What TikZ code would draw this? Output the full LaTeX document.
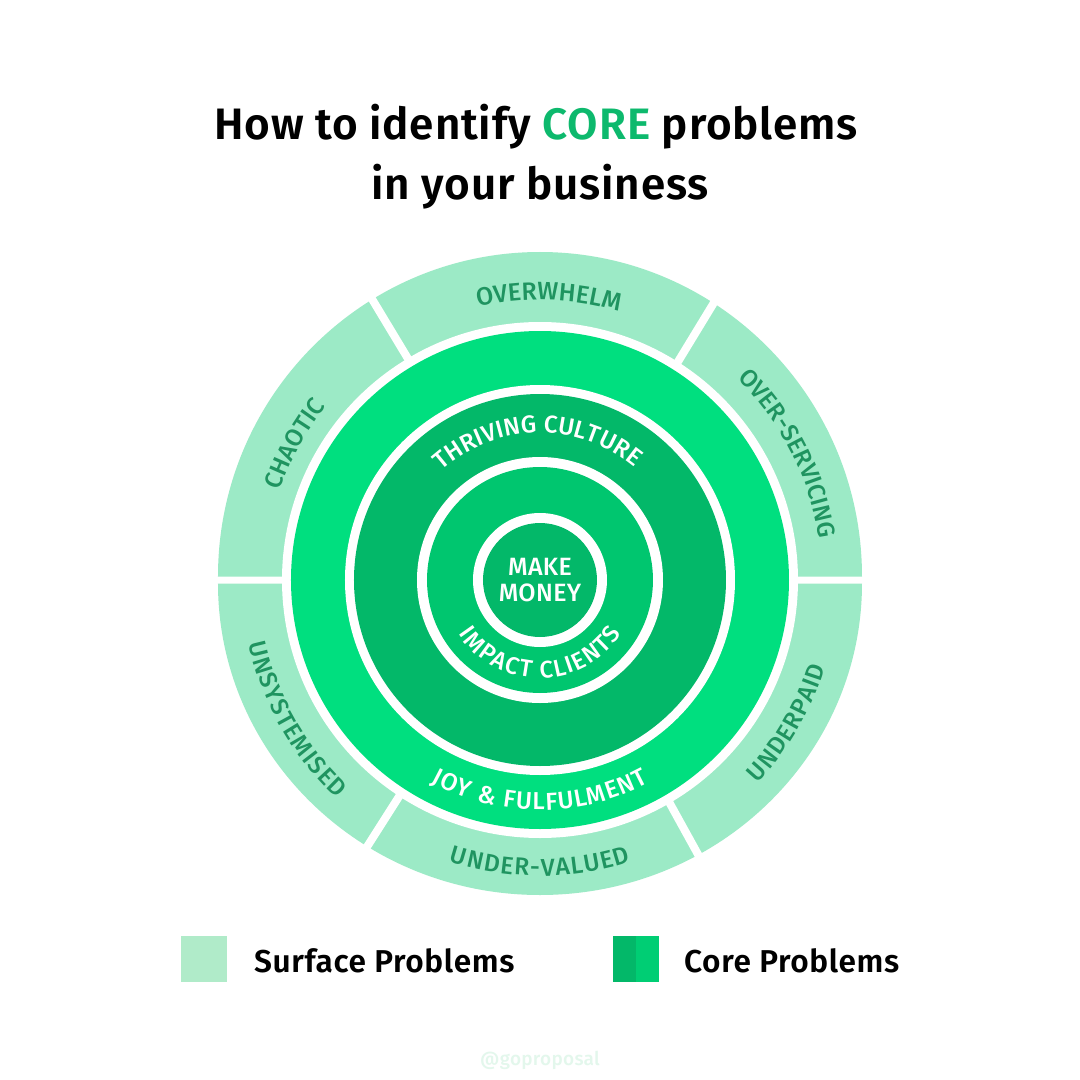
\documentclass[tikz,border=0pt]{standalone}
\usepackage{fontspec}
\setmainfont{Fira Sans}
\newfontfamily\medf{Fira Sans Medium}[LetterSpace=1.5]
\newfontfamily\semif{Fira Sans SemiBold}[LetterSpace=2]
\usetikzlibrary{decorations.text}
\definecolor{surf}{HTML}{9CEAC6}
\definecolor{surftxt}{HTML}{1F9460}
\definecolor{bright}{HTML}{00DF7F}
\definecolor{darkg}{HTML}{03B869}
\definecolor{midg}{HTML}{00C66F}
\definecolor{corehi}{HTML}{00CE74}
\definecolor{legsurf}{HTML}{B0EBC9}
\definecolor{titleg}{HTML}{0DB96D}
\definecolor{wmark}{HTML}{E3F7EC}
\newcommand{\cwtext}[5]{\path[decorate,decoration={text along path,text align=center,text={|\medf\fontsize{#5}{#5}\selectfont\color{#4}|#1}}] (#2+60:#3) arc[start angle=#2+60,end angle=#2-60,radius=#3];}
\newcommand{\ccwtext}[5]{\path[decorate,decoration={text along path,text align=center,text={|\medf\fontsize{#5}{#5}\selectfont\color{#4}|#1}}] (#2-60:#3) arc[start angle=#2-60,end angle=#2+60,radius=#3];}
\tikzset{gap/.style={white,line width=8pt},
  legendtext/.style={font=\semif\fontsize{31.6}{31.6}\selectfont,anchor=base west,inner sep=0pt},
  titletext/.style={font=\semif\fontsize{44}{44}\selectfont,inner sep=0pt,anchor=base}}
\begin{document}
\begin{tikzpicture}[x=1pt,y=1pt]
\useasboundingbox[fill=white] (-540,-500) rectangle (540,580);
% surface band
\fill[surf] (-322,3.5) arc[start angle=180,end angle=0,x radius=322,y radius=324.5] -- cycle;
\fill[surf] (-322,-3.5) arc[start angle=180,end angle=360,x radius=322,y radius=311.5] -- cycle;
\coordinate (c) at (0,0);
\coordinate (g1o) at (-171,286); \coordinate (g1i) at (-130,218);
\coordinate (g2o) at (178,284); \coordinate (g2i) at (136,215);
\coordinate (g3o) at (-175,-270); \coordinate (g3i) at (-140,-215);
\coordinate (g4o) at (160,-278); \coordinate (g4i) at (128,-220);
\draw[gap] (g1o) -- (g1i);
\draw[gap] (g2o) -- (g2i);
\draw[gap] (g3o) -- (g3i);
\draw[gap] (g4o) -- (g4i);
% rings
\fill[white] (c) circle[radius=258];
\fill[bright] (c) circle[radius=249];
\fill[white] (c) circle[radius=195];
\fill[darkg] (c) circle[radius=186];
\fill[white] (c) circle[radius=123];
\fill[midg] (c) circle[radius=113];
\fill[white] (c) circle[radius=67];
\fill[darkg] (c) circle[radius=57];
% curved labels
\cwtext{OVERWHELM}{88.2}{280}{surftxt}{25}
\cwtext{CHAOTIC}{151}{275}{surftxt}{24.5}
\cwtext{OVER-SERVICING}{27}{282}{surftxt}{24.4}
\ccwtext{U{\kern0.9pt}N{\kern0.9pt}D{\kern0.9pt}E{\kern0.9pt}R{\kern0.9pt}P{\kern0.9pt}A{\kern0.9pt}I{\kern0.9pt}D}{-30}{298}{surftxt}{24.5}
\ccwtext{U{\kern1.2pt}N{\kern1.2pt}D{\kern1.2pt}E{\kern1.2pt}R{\kern1.2pt}-{\kern1.2pt}V{\kern1.2pt}A{\kern1.2pt}L{\kern1.2pt}U{\kern1.2pt}E{\kern1.2pt}D}{-90}{296}{surftxt}{24.5}
\ccwtext{U{\kern1.1pt}N{\kern1.1pt}S{\kern1.1pt}Y{\kern1.1pt}S{\kern1.1pt}T{\kern1.1pt}E{\kern1.1pt}M{\kern1.1pt}I{\kern1.1pt}S{\kern1.1pt}E{\kern1.1pt}D}{209.7}{298}{surftxt}{24.5}
\cwtext{THRIVING CULTURE}{91}{147}{white}{24.4}
\ccwtext{I{\kern1.5pt}M{\kern1.5pt}P{\kern1.5pt}A{\kern1.5pt}C{\kern1.5pt}T{\kern1.5pt} {\kern1.5pt}C{\kern1.5pt}L{\kern1.5pt}I{\kern1.5pt}E{\kern1.5pt}N{\kern1.5pt}T{\kern1.5pt}S}{-90}{98}{white}{24}
\ccwtext{J{\kern1pt}O{\kern1pt}Y{\kern1pt} {\kern1pt}{\&}{\kern1pt} {\kern1pt}F{\kern1pt}U{\kern1pt}L{\kern1pt}F{\kern1pt}U{\kern1pt}L{\kern1pt}M{\kern1pt}E{\kern1pt}N{\kern1pt}T}{-90}{230}{white}{24.5}
\node[white,font=\medf\fontsize{25}{26}\selectfont,align=center,inner sep=0pt] (money) at (0,0) {MAKE\\MONEY};
% title
\node[titletext] (t1) at (-4,440) {How to identify \textcolor{titleg}{CORE} problems};
\node[titletext] (t2) at (0,380) {in your business};
% legend
\fill[legsurf] (-359,-402) rectangle (-313,-356);
\fill[darkg] (73,-402) rectangle (96,-356);
\fill[corehi] (96,-402) rectangle (119,-356);
\node[legendtext] (l1) at (-286,-392) {Surface Problems};
\node[legendtext] (l2) at (144,-392) {Core Problems};
\node[wmark,font=\medf\fontsize{19}{19}\selectfont,inner sep=0pt] (w) at (0,-480) {@goproposal};
\end{tikzpicture}
\end{document}
